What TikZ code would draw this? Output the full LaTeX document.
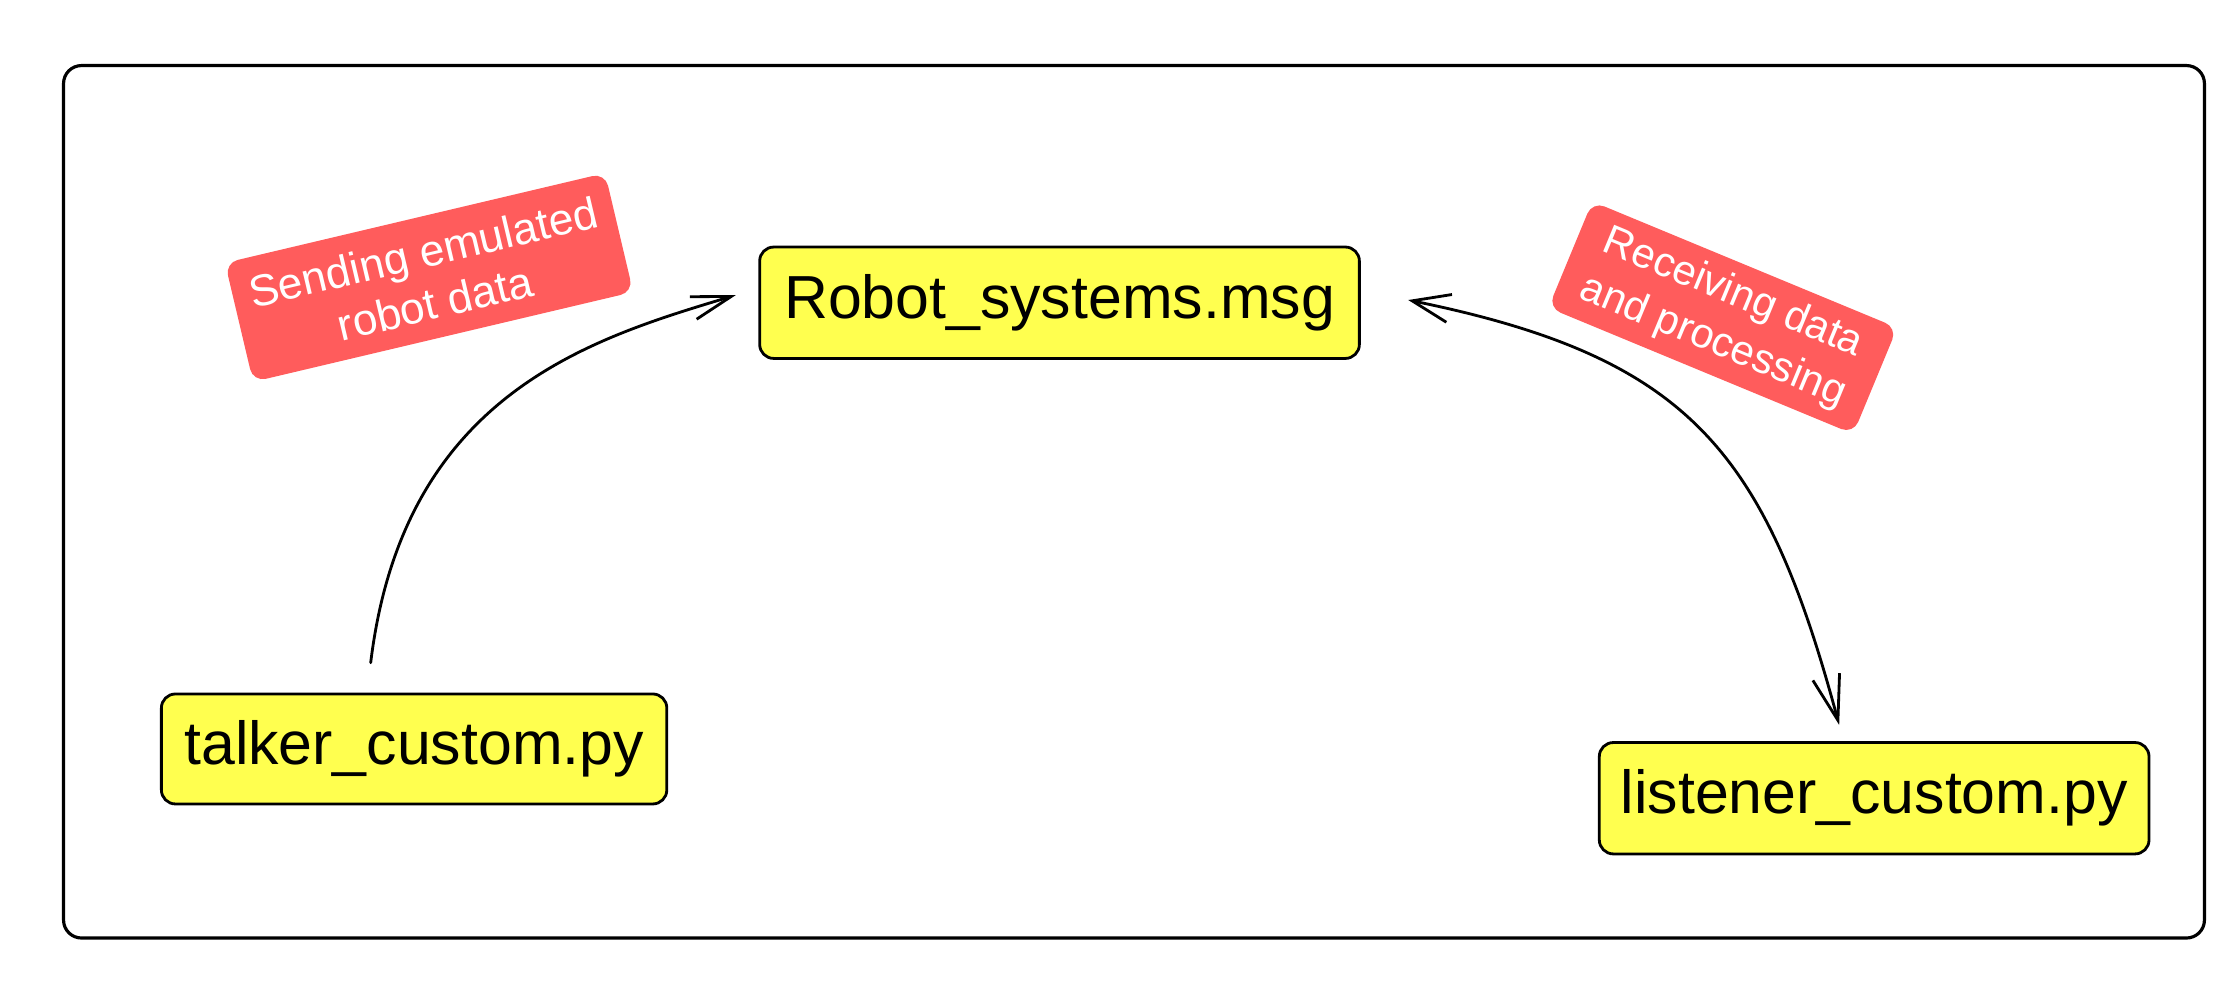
\documentclass[tikz,border=0pt]{standalone}
\usepackage{fontspec}
\setmainfont{Liberation Sans}
\usetikzlibrary{arrows.meta}
\definecolor{boxyellow}{HTML}{FFFF4F}
\definecolor{tagred}{HTML}{FF5C5C}
\begin{document}
\begin{tikzpicture}[x=0.01428cm, y=-0.01428cm,
  filebox/.style={draw=black, line width=0.8pt, fill=boxyellow, rounded corners=0.14cm,
    inner sep=0pt, outer sep=0pt, font=\fontsize{17.3}{20}\selectfont, align=center},
  tag/.style={fill=tagred, rounded corners=0.13cm, inner sep=0pt, outer sep=0pt,
    text=white, align=center},
  conn/.style={draw=black, line width=0.8pt, line cap=round, line join=round}]
\useasboundingbox (0,0) rectangle (1568,700);
% frame
\draw[line width=0.9pt, rounded corners=0.18cm] (44.5,45.9) rectangle (1543.8,656.9);
% file boxes
\node[filebox, minimum width=5.998cm, minimum height=1.114cm] (msg) at (742,212) {Robot\_systems.msg};
\node[filebox, minimum width=5.055cm, minimum height=1.100cm] (talker) at (290,524.5) {talker\_custom.py};
\node[filebox, minimum width=5.498cm, minimum height=1.114cm] (listener) at (1312.5,559) {listener\_custom.py};
% tags
\node[tag, rotate=13.3, minimum width=3.906cm, minimum height=1.222cm,
  font=\fontsize{12.6}{14.9}\selectfont] (tagsend) at (300.5,194.3) {Sending emulated\\robot data};
\node[tag, rotate=-22.5, minimum width=3.30cm, minimum height=1.15cm,
  font=\fontsize{11.9}{14.9}\selectfont] (tagrecv) at (1206.5,222.5) {Receiving data\\and processing};
% connector end points
\coordinate (a1s) at (259.6,464.1);
\coordinate (a1e) at (515.4,206.6);
\coordinate (a2s) at (986.2,210.1);
\coordinate (a2e) at (1288,507.7);
% connectors
\draw[conn, -{Straight Barb[length=0.397cm, width=0.235cm, line width=0.8pt]}]
  (a1s) .. controls (282.5,275) and (415,237) .. (a1e);
\draw[conn, {Straight Barb[length=0.378cm, width=0.283cm, line width=0.8pt]}-{Straight Barb[length=0.451cm, width=0.276cm, line width=0.8pt]}]
  (a2s) .. controls (1182.2,250.1) and (1236,314.5) .. (a2e);
\end{tikzpicture}
\end{document}
